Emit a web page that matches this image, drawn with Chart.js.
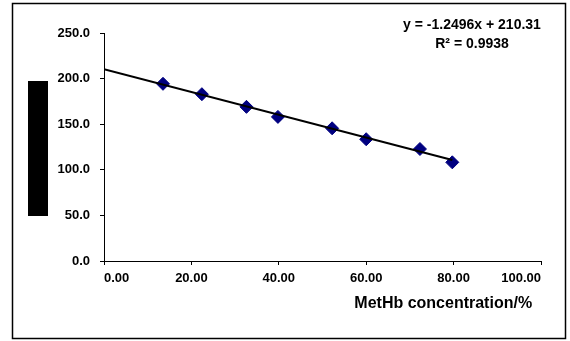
<!DOCTYPE html>
<html><head><meta charset="utf-8">
<script src="https://cdn.jsdelivr.net/npm/chart.js@4"></script>
<style>html,body{margin:0;padding:0;background:#fff}#wrap{width:570px;height:341px}</style>
</head><body><div id="wrap"><canvas id="c" width="570" height="341"></canvas></div>
<script>
// Data
const methb = [13.5, 22.4, 32.6, 39.8, 52.2, 60.0, 72.3, 79.7];
const signal = [194.3, 182.9, 169.0, 158.0, 145.5, 133.5, 122.8, 108.2];
const trendX = [0, 79.7];
const trendY = [210.31, 110.72];
const xTickValues = [0, 20, 40, 60, 80, 100];
const yTickValues = [0, 50, 100, 150, 200, 250];
const equationLines = ["y = -1.2496x + 210.31", "R² = 0.9938"];
const xTitle = "MetHb concentration/%";

const FONT = "'Liberation Sans', Arial, sans-serif";

const framePlugin = {
  id: 'frame',
  beforeDraw(chart) {
    const ctx = chart.ctx;
    ctx.save();
    ctx.fillStyle = '#fff';
    ctx.fillRect(0, 0, chart.width, chart.height);
    ctx.strokeStyle = '#000';
    ctx.lineWidth = 1.5;
    ctx.strokeRect(12.5, 3.5, 553, 335);
    ctx.fillStyle = '#000';
    ctx.fillRect(28, 81, 20, 135);
    ctx.restore();
  },
  afterDraw(chart) {
    const ctx = chart.ctx;
    ctx.save();
    ctx.fillStyle = '#000';
    ctx.font = "bold 14px " + FONT;
    ctx.textAlign = 'center';
    ctx.textBaseline = 'alphabetic';
    ctx.fillText(equationLines[0], 472, 28.5);
    ctx.fillText(equationLines[1], 472, 48);
    ctx.restore();
  }
};

new Chart(document.getElementById('c'), {
  type: 'scatter',
  data: {
    datasets: [
      {
        type: 'line',
        label: 'trend',
        data: trendX.map((x, i) => ({x, y: trendY[i]})),
        borderColor: '#000',
        borderWidth: 2,
        pointRadius: 0,
        fill: false,
        order: 0
      },
      {
        label: 'data',
        data: methb.map((x, i) => ({x, y: signal[i]})),
        pointStyle: 'rectRot',
        pointRadius: 6.5,
        backgroundColor: '#000080',
        borderColor: '#000080',
        borderWidth: 1,
        order: 1
      }
    ]
  },
  options: {
    responsive: false,
    devicePixelRatio: 1,
    animation: false,
    layout: { padding: { left: 44, right: 29, top: 33, bottom: 20 } },
    plugins: { legend: { display: false }, tooltip: { enabled: false } },
    scales: {
      x: {
        type: 'linear', min: 0, max: 100,
        afterBuildTicks: s => { s.ticks = xTickValues.map(v => ({value: v})); },
        afterFit: s => { s.height = 60; },
        border: { color: '#000', width: 1 },
        grid: { drawOnChartArea: false, drawTicks: true, tickLength: 4, color: '#000' },
        ticks: {
          align: 'inner',
          padding: 6,
          color: '#000',
          font: { family: FONT, size: 13, weight: 'bold' },
          callback: v => Number(v).toFixed(2)
        },
        title: {
          display: true, text: xTitle + "\u00A0\u00A0", align: 'end', color: '#000',
          font: { family: FONT, size: 16, weight: 'bold' },
          padding: { top: 6, bottom: 8 }
        }
      },
      y: {
        type: 'linear', min: 0, max: 250,
        afterBuildTicks: s => { s.ticks = yTickValues.map(v => ({value: v})); },
        afterFit: s => { s.width = 60; },
        border: { color: '#000', width: 1 },
        grid: { drawOnChartArea: false, drawTicks: true, tickLength: 4, color: '#000' },
        ticks: {
          padding: 10,
          color: '#000',
          font: { family: FONT, size: 13, weight: 'bold' },
          callback: v => Number(v).toFixed(1)
        }
      }
    }
  },
  plugins: [framePlugin]
});
</script>
</body></html>
